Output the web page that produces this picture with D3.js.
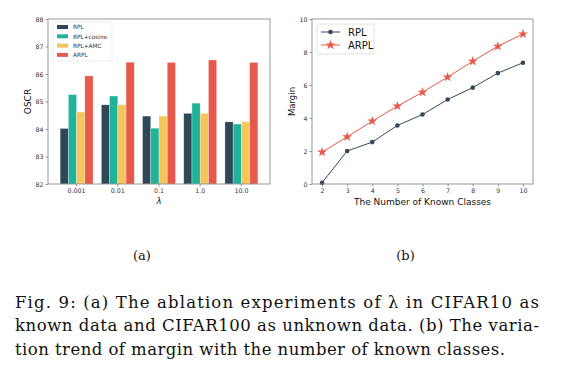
<!DOCTYPE html>
<html>
<head>
<meta charset="utf-8">
<script src="https://cdn.jsdelivr.net/npm/d3@7"></script>
<style>
body { margin: 0; background: #fff; }
</style>
</head>
<body>
<div id="chart"></div>
<script>
// data, chart (a)
var lambdas = ["0.001", "0.01", "0.1", "1.0", "10.0"];
var methods = ["RPL", "RPL+cosine", "RPL+AMC", "ARPL"];
var rpl    = [84.02, 84.88, 84.47, 84.57, 84.26];
var cosine = [85.25, 85.20, 84.03, 84.94, 84.18];
var amc    = [84.62, 84.88, 84.47, 84.57, 84.26];
var arpl   = [85.93, 86.43, 86.42, 86.51, 86.42];
var barColors = ["#2f4858", "#20b39a", "#f4c55a", "#e8594b"];
var oscrTicks = [82, 83, 84, 85, 86, 87, 88];

// data, chart (b)
var classes = [2, 3, 4, 5, 6, 7, 8, 9, 10];
var marginRpl  = [0.08, 2.0, 2.54, 3.55, 4.21, 5.12, 5.84, 6.72, 7.35];
var marginArpl = [1.93, 2.86, 3.81, 4.72, 5.56, 6.48, 7.44, 8.35, 9.09];
var marginTicks = [0, 2, 4, 6, 8, 10];

var width = 566;
var height = 367;

var svg = d3.select("#chart")
    .append("svg")
    .attr("width", width)
    .attr("height", height)
    .attr("font-family", "DejaVu Sans, sans-serif");

var spine = "#7f7f7f";
var tickColor = "#333";

// ---------- chart (a) ----------
var a = {left: 48, right: 270, top: 19, bottom: 184};
var series = [rpl, cosine, amc, arpl];

var x0 = d3.scaleBand().domain(lambdas).range([a.left + 8, a.right - 8]).paddingInner(0.2).paddingOuter(0.1);
var x1 = d3.scaleBand().domain(methods).range([0, x0.bandwidth()]);
var yA = d3.scaleLinear().domain([82, 88]).range([a.bottom, a.top]);

var gA = svg.append("g");

lambdas.forEach(function(l, i){
    gA.selectAll(null)
        .data(methods)
        .enter()
        .append("rect")
        .attr("x", function(m){ return x0(l) + x1(m); })
        .attr("y", function(m, j){ return yA(series[j][i]); })
        .attr("width", x1.bandwidth())
        .attr("height", function(m, j){ return yA(82) - yA(series[j][i]); })
        .attr("fill", function(m, j){ return barColors[j]; })
        .attr("stroke", "rgba(255,255,255,0.5)")
        .attr("stroke-width", 0.6);
});

gA.append("g")
    .attr("transform", "translate(" + a.left + ",0)")
    .call(d3.axisLeft(yA).tickValues(oscrTicks).tickSize(2.5).tickPadding(2).tickFormat(d3.format("d")))
    .call(function(g){ g.select(".domain").remove(); });

gA.append("g")
    .attr("transform", "translate(0," + a.bottom + ")")
    .call(d3.axisBottom(x0).tickSize(2.5).tickPadding(2))
    .call(function(g){ g.select(".domain").remove(); });

gA.selectAll(".tick text").attr("font-size", 6.3).attr("fill", tickColor).attr("font-family", "DejaVu Sans");
gA.selectAll(".tick line").attr("stroke", tickColor).attr("stroke-width", 0.5);

gA.append("rect")
    .attr("x", a.left).attr("y", a.top)
    .attr("width", a.right - a.left).attr("height", a.bottom - a.top)
    .attr("fill", "none").attr("stroke", spine).attr("stroke-width", 0.8);

gA.append("text")
    .attr("transform", "translate(31," + ((a.top + a.bottom) / 2) + ") rotate(-90)")
    .attr("text-anchor", "middle")
    .attr("font-size", 9)
    .attr("fill", "#111")
    .text("OSCR");

gA.append("text")
    .attr("x", (a.left + a.right) / 2)
    .attr("y", 204)
    .attr("text-anchor", "middle")
    .attr("font-size", 8.5)
    .attr("font-style", "italic")
    .attr("fill", "#111")
    .text("λ");

// legend (a)
var legA = gA.append("g").attr("transform", "translate(53,22)");
legA.append("rect")
    .attr("width", 59).attr("height", 39).attr("rx", 1.5)
    .attr("fill", "#fff").attr("stroke", "#ddd").attr("stroke-width", 0.6);
legA.selectAll(null)
    .data(methods)
    .enter()
    .append("rect")
    .attr("x", 4).attr("y", function(d, i){ return 3 + i * 9.3; })
    .attr("width", 11).attr("height", 4)
    .attr("fill", function(d, i){ return barColors[i]; });
legA.selectAll(null)
    .data(methods)
    .enter()
    .append("text")
    .attr("x", 20).attr("y", function(d, i){ return 7.3 + i * 9.3; })
    .attr("font-size", 5.8)
    .attr("fill", "#333")
    .text(function(d){ return d; });

// ---------- chart (b) ----------
var b = {left: 312, right: 533, top: 19, bottom: 184};
var xB = d3.scaleLinear().domain([1.6, 10.4]).range([b.left, b.right]);
var yB = d3.scaleLinear().domain([0, 10]).range([b.bottom, b.top]);

var gB = svg.append("g");
var rplColor = "#34495e";
var arplColor = "#e8594b";

var line = d3.line()
    .x(function(d){ return xB(d[0]); })
    .y(function(d){ return yB(d[1]); });

var rplPts = classes.map(function(c, i){ return [c, marginRpl[i]]; });
var arplPts = classes.map(function(c, i){ return [c, marginArpl[i]]; });

gB.append("path").datum(arplPts)
    .attr("d", line).attr("fill", "none").attr("stroke", arplColor).attr("stroke-width", 1);
gB.append("path").datum(rplPts)
    .attr("d", line).attr("fill", "none").attr("stroke", rplColor).attr("stroke-width", 1);

gB.selectAll(null)
    .data(rplPts)
    .enter()
    .append("circle")
    .attr("cx", function(d){ return xB(d[0]); })
    .attr("cy", function(d){ return yB(d[1]); })
    .attr("r", 2.3)
    .attr("fill", rplColor);

var star = d3.symbol().type(d3.symbolStar).size(30);
gB.selectAll(null)
    .data(arplPts)
    .enter()
    .append("path")
    .attr("d", star)
    .attr("transform", function(d){ return "translate(" + xB(d[0]) + "," + yB(d[1]) + ")"; })
    .attr("fill", arplColor);

gB.append("g")
    .attr("transform", "translate(" + b.left + ",0)")
    .call(d3.axisLeft(yB).tickValues(marginTicks).tickSize(2.5).tickPadding(2))
    .call(function(g){ g.select(".domain").remove(); });

gB.append("g")
    .attr("transform", "translate(0," + b.bottom + ")")
    .call(d3.axisBottom(xB).tickValues(classes).tickSize(2.5).tickPadding(2).tickFormat(d3.format("d")))
    .call(function(g){ g.select(".domain").remove(); });

gB.selectAll(".tick text").attr("font-size", 6.3).attr("fill", tickColor).attr("font-family", "DejaVu Sans");
gB.selectAll(".tick line").attr("stroke", tickColor).attr("stroke-width", 0.5);

gB.append("rect")
    .attr("x", b.left).attr("y", b.top)
    .attr("width", b.right - b.left).attr("height", b.bottom - b.top)
    .attr("fill", "none").attr("stroke", spine).attr("stroke-width", 0.8);

gB.append("text")
    .attr("transform", "translate(295," + ((b.top + b.bottom) / 2) + ") rotate(-90)")
    .attr("text-anchor", "middle")
    .attr("font-size", 8.5)
    .attr("fill", "#111")
    .text("Margin");

gB.append("text")
    .attr("x", (b.left + b.right) / 2)
    .attr("y", 205)
    .attr("text-anchor", "middle")
    .attr("font-size", 9)
    .attr("fill", "#111")
    .text("The Number of Known Classes");

// legend (b)
var legB = gB.append("g").attr("transform", "translate(317,24)");
legB.append("rect")
    .attr("width", 57).attr("height", 30).attr("rx", 1.5)
    .attr("fill", "#fff").attr("stroke", "#ccc").attr("stroke-width", 0.6);
var legItems = [{name: "RPL", color: rplColor}, {name: "ARPL", color: arplColor}];
legItems.forEach(function(d, i){
    var yy = 8 + i * 13;
    legB.append("line")
        .attr("x1", 4).attr("x2", 23).attr("y1", yy).attr("y2", yy)
        .attr("stroke", d.color).attr("stroke-width", 1);
    if (i === 0) {
        legB.append("circle").attr("cx", 13.5).attr("cy", yy).attr("r", 2.3).attr("fill", d.color);
    } else {
        legB.append("path").attr("d", star).attr("transform", "translate(13.5," + yy + ")").attr("fill", d.color);
    }
    legB.append("text")
        .attr("x", 31).attr("y", yy + 3.5)
        .attr("font-size", 10)
        .attr("fill", "#111")
        .text(d.name);
});

// ---------- captions ----------
var serif = "DejaVu Serif, Liberation Serif, serif";
svg.append("text").attr("x", 142).attr("y", 260).attr("text-anchor", "middle")
    .attr("font-family", serif).attr("font-size", 13).attr("fill", "#111").text("(a)");
svg.append("text").attr("x", 405.5).attr("y", 260).attr("text-anchor", "middle")
    .attr("font-family", serif).attr("font-size", 13).attr("fill", "#111").text("(b)");

var capLines = [
    "Fig. 9: (a) The ablation experiments of λ in CIFAR10 as",
    "known data and CIFAR100 as unknown data. (b) The varia-",
    "tion trend of margin with the number of known classes."
];
var capWidths = [524, 524, 490];
capLines.forEach(function(t, i){
    svg.append("text")
        .attr("x", 15)
        .attr("y", 307.5 + i * 23.5)
        .attr("font-family", serif)
        .attr("font-size", 16.5)
        .attr("fill", "#111")
        .attr("textLength", capWidths[i])
        .attr("lengthAdjust", "spacing")
        .text(t);
});
</script>
</body>
</html>
